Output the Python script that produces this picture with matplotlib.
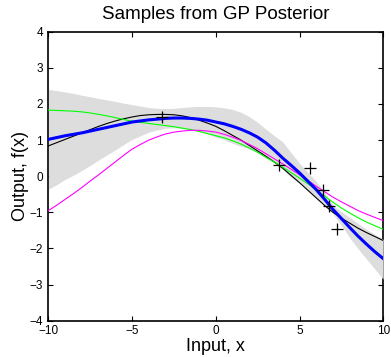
import numpy as np
import matplotlib.pyplot as plt

plt.rcParams['font.family'] = ['Liberation Sans', 'DejaVu Sans']

# inputs the curves were read at (every half unit)
x = np.arange(-10, 10.01, 0.5)

post_mean = [1.02, 1.07, 1.12, 1.16, 1.20, 1.25, 1.30, 1.35, 1.40, 1.45, 1.50,
             1.53, 1.56, 1.58, 1.60, 1.61, 1.61, 1.60, 1.58, 1.55, 1.50,
             1.45, 1.38, 1.30, 1.20, 1.08, 0.92, 0.72, 0.50, 0.30, 0.09,
             -0.14, -0.37, -0.64, -0.92, -1.17, -1.42, -1.66, -1.88, -2.09, -2.28]
band_upper = [2.40, 2.37, 2.33, 2.29, 2.24, 2.20, 2.15, 2.11, 2.07, 2.02, 1.98,
              1.94, 1.90, 1.88, 1.87, 1.88, 1.90, 1.92, 1.93, 1.93, 1.92,
              1.89, 1.85, 1.77, 1.65, 1.49, 1.30, 1.12, 0.95, 0.65, 0.36,
              0.10, -0.14, -0.45, -0.80, -0.98, -1.14, -1.31, -1.47, -1.61, -1.75]
band_lower = [-0.36, -0.23, -0.09, 0.03, 0.16, 0.30, 0.45, 0.59, 0.73, 0.88, 1.02,
              1.12, 1.22, 1.28, 1.33, 1.34, 1.32, 1.28, 1.23, 1.17, 1.08,
              1.01, 0.91, 0.83, 0.75, 0.67, 0.56, 0.38, 0.18, -0.03, -0.18,
              -0.38, -0.60, -0.83, -1.04, -1.36, -1.70, -2.01, -2.29, -2.57, -2.85]

sample_black = [0.84, 0.93, 1.02, 1.11, 1.20, 1.29, 1.38, 1.46, 1.53, 1.59, 1.64,
                1.68, 1.70, 1.71, 1.71, 1.70, 1.67, 1.62, 1.55, 1.47, 1.38,
                1.26, 1.13, 1.00, 0.85, 0.70, 0.55, 0.39, 0.22, 0.02, -0.18,
                -0.39, -0.60, -0.81, -1.00, -1.16, -1.30, -1.44, -1.56, -1.67, -1.78]
sample_green = [1.83, 1.82, 1.81, 1.80, 1.78, 1.75, 1.71, 1.67, 1.62, 1.57, 1.52,
                1.49, 1.46, 1.43, 1.40, 1.37, 1.33, 1.29, 1.24, 1.18, 1.12,
                1.06, 0.98, 0.89, 0.78, 0.66, 0.52, 0.39, 0.25, 0.10, -0.05,
                -0.21, -0.38, -0.55, -0.72, -0.88, -1.02, -1.15, -1.27, -1.37, -1.47]
sample_magenta = [-0.95, -0.80, -0.64, -0.48, -0.31, -0.13, 0.04, 0.22, 0.40, 0.58, 0.75,
                  0.88, 1.00, 1.09, 1.17, 1.22, 1.25, 1.27, 1.27, 1.25, 1.22,
                  1.16, 1.08, 0.99, 0.88, 0.76, 0.62, 0.48, 0.34, 0.19, 0.04,
                  -0.12, -0.28, -0.43, -0.58, -0.71, -0.83, -0.95, -1.05, -1.14, -1.23]

# observed training points
x_obs = [-3.24, 3.77, 5.62, 6.38, 6.77, 7.27]
y_obs = [1.64, 0.31, 0.24, -0.38, -0.83, -1.47]

fig = plt.figure(figsize=(3.91, 3.57), dpi=100)
ax = fig.add_axes([0.124, 0.1017, 0.856, 0.8095])

ax.fill_between(x, band_lower, band_upper, color='#dddddd', linewidth=0, zorder=3)
ax.plot(x, sample_black, color='black', lw=0.8, zorder=4)
ax.plot(x, sample_green, color='#00ff00', lw=0.8, zorder=4)
ax.plot(x, sample_magenta, color='#ff00ff', lw=0.8, zorder=4)
ax.plot(x, post_mean, color='blue', lw=2.2, zorder=5)
ax.plot(x_obs, y_obs, '+', color='black', ms=9, mew=0.9, zorder=6)

ax.set_xlim(-10, 10)
ax.set_ylim(-4, 4)
ax.set_xticks([-10, -5, 0, 5, 10])
ax.set_yticks(range(-4, 5))
ax.tick_params(direction='in', top=True, right=True, length=3.5, width=0.8,
               labelsize=8.5)
ax.tick_params(axis='x', pad=3)
ax.tick_params(axis='y', pad=4)
for s in ax.spines.values():
    s.set_linewidth(1.2)

ax.set_title('Samples from GP Posterior', fontsize=13.5, pad=9)
ax.set_xlabel('Input, x', fontsize=13, labelpad=1)
ax.set_ylabel('Output, f(x)', fontsize=13, labelpad=0)

fig.savefig('out.png', dpi=100)
